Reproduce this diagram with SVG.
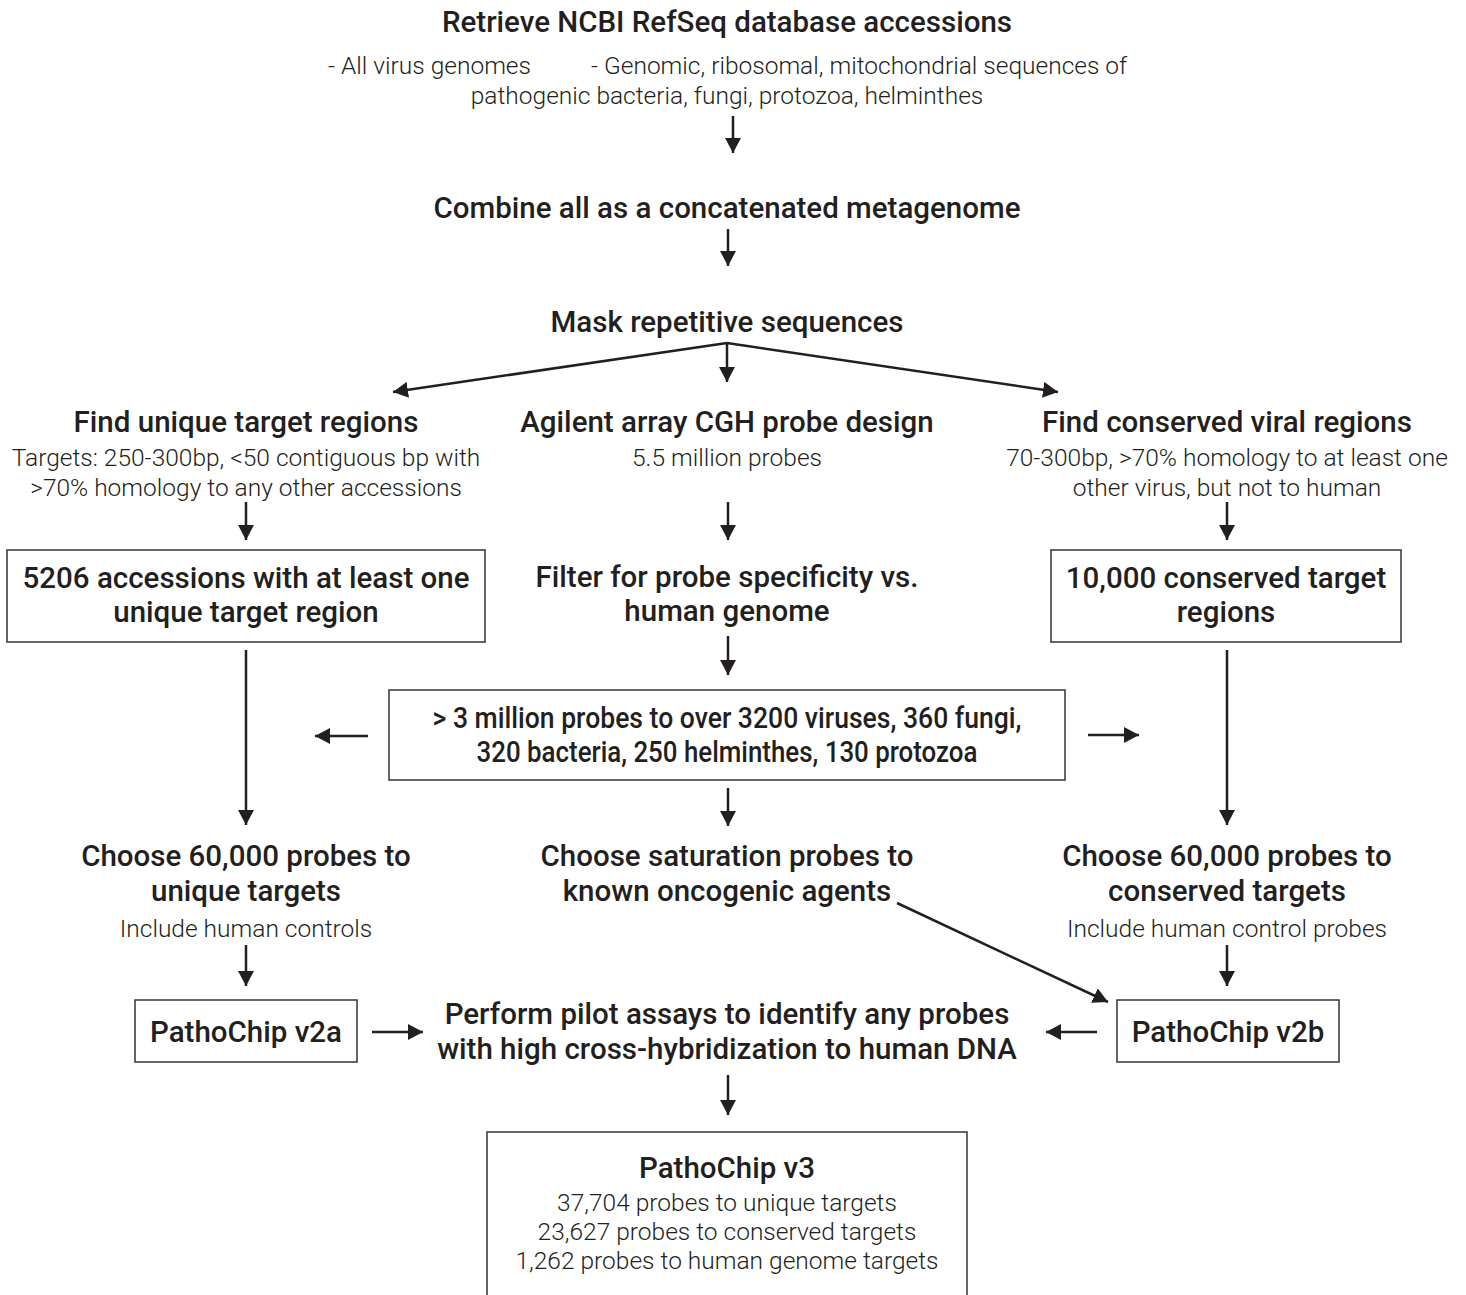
<svg xmlns="http://www.w3.org/2000/svg" width="1466" height="1295" viewBox="0 0 1466 1295">
<defs>
<marker id="ah" markerUnits="userSpaceOnUse" markerWidth="15" markerHeight="16" refX="15" refY="8" orient="auto">
<path d="M0,0 L15,8 L0,16 z" fill="#231f20"/>
</marker>
<style>
.t{font-family:Roboto,"Liberation Sans",sans-serif;font-weight:500;font-size:29.5px;fill:#231f20;text-anchor:middle}
.s{font-family:Roboto,"Liberation Sans",sans-serif;font-weight:300;font-size:24.5px;fill:#231f20;text-anchor:middle}
.b{fill:#fff;stroke:#333;stroke-width:1.5}
.c line{stroke:#231f20;stroke-width:2.5;marker-end:url(#ah)}
</style>
</defs>
<rect width="1466" height="1295" fill="#fff"/>
<g id="retrieve">
<text class="t" x="727" y="32">Retrieve NCBI RefSeq database accessions</text>
<text class="s" x="328" y="74" style="text-anchor:start">- All virus genomes</text>
<text class="s" x="591" y="74" style="text-anchor:start">- Genomic, ribosomal, mitochondrial sequences of</text>
<text class="s" x="727" y="104">pathogenic bacteria, fungi, protozoa, helminthes</text>
</g>
<g id="combine">
<text class="t" x="727" y="218">Combine all as a concatenated metagenome</text>
</g>
<g id="mask">
<text class="t" x="727" y="332">Mask repetitive sequences</text>
</g>
<g id="find-unique">
<text class="t" x="246" y="432">Find unique target regions</text>
<text class="s" x="246" y="466">Targets: 250-300bp, &lt;50 contiguous bp with</text>
<text class="s" x="246" y="496">&gt;70% homology to any other accessions</text>
</g>
<g id="agilent">
<text class="t" x="727" y="432">Agilent array CGH probe design</text>
<text class="s" x="727" y="466">5.5 million probes</text>
</g>
<g id="find-conserved">
<text class="t" x="1227" y="432">Find conserved viral regions</text>
<text class="s" x="1227" y="466">70-300bp, &gt;70% homology to at least one</text>
<text class="s" x="1227" y="496">other virus, but not to human</text>
</g>
<g id="accessions">
<rect class="b" x="7" y="550" width="478" height="92"/>
<text class="t" x="246" y="588">5206 accessions with at least one</text>
<text class="t" x="246" y="622">unique target region</text>
</g>
<g id="filter">
<text class="t" x="727" y="587">Filter for probe specificity vs.</text>
<text class="t" x="727" y="621">human genome</text>
</g>
<g id="conserved-regions">
<rect class="b" x="1051" y="550" width="350" height="92"/>
<text class="t" x="1226" y="588">10,000 conserved target</text>
<text class="t" x="1226" y="622">regions</text>
</g>
<g id="probes">
<rect class="b" x="389" y="690" width="676" height="90"/>
<text class="t" x="727" y="728" textLength="589" lengthAdjust="spacingAndGlyphs">&gt; 3 million probes to over 3200 viruses, 360 fungi,</text>
<text class="t" x="727" y="762" textLength="501" lengthAdjust="spacingAndGlyphs">320 bacteria, 250 helminthes, 130 protozoa</text>
</g>
<g id="choose-unique">
<text class="t" x="246" y="866">Choose 60,000 probes to</text>
<text class="t" x="246" y="901">unique targets</text>
<text class="s" x="246" y="937">Include human controls</text>
</g>
<g id="choose-saturation">
<text class="t" x="727" y="866">Choose saturation probes to</text>
<text class="t" x="727" y="901">known oncogenic agents</text>
</g>
<g id="choose-conserved">
<text class="t" x="1227" y="866">Choose 60,000 probes to</text>
<text class="t" x="1227" y="901">conserved targets</text>
<text class="s" x="1227" y="937">Include human control probes</text>
</g>
<g id="v2a">
<rect class="b" x="135" y="1000" width="222" height="62"/>
<text class="t" x="246" y="1042">PathoChip v2a</text>
</g>
<g id="pilot">
<text class="t" x="727" y="1024">Perform pilot assays to identify any probes</text>
<text class="t" x="727" y="1059">with high cross-hybridization to human DNA</text>
</g>
<g id="v2b">
<rect class="b" x="1117" y="1000" width="222" height="62"/>
<text class="t" x="1228" y="1042">PathoChip v2b</text>
</g>
<g id="v3">
<rect class="b" x="487" y="1132" width="480" height="170"/>
<text class="t" x="727" y="1178">PathoChip v3</text>
<text class="s" x="727" y="1211">37,704 probes to unique targets</text>
<text class="s" x="727" y="1240">23,627 probes to conserved targets</text>
<text class="s" x="727" y="1269">1,262 probes to human genome targets</text>
</g>
<g id="connectors" class="c">
<line x1="733" y1="116" x2="733" y2="153"/>
<line x1="728" y1="229" x2="728" y2="266"/>
<line x1="727" y1="343" x2="393" y2="392"/>
<line x1="727" y1="343" x2="727" y2="382"/>
<line x1="727" y1="343" x2="1058" y2="392"/>
<line x1="246" y1="502" x2="246" y2="540"/>
<line x1="728" y1="502" x2="728" y2="540"/>
<line x1="1227" y1="502" x2="1227" y2="540"/>
<line x1="728" y1="636" x2="728" y2="675"/>
<line x1="246" y1="650" x2="246" y2="825"/>
<line x1="1227" y1="650" x2="1227" y2="825"/>
<line x1="368" y1="736" x2="315" y2="736"/>
<line x1="1088" y1="735" x2="1139" y2="735"/>
<line x1="728" y1="788" x2="728" y2="826"/>
<line x1="246" y1="945" x2="246" y2="986"/>
<line x1="1227" y1="945" x2="1227" y2="986"/>
<line x1="897" y1="903" x2="1108" y2="1002"/>
<line x1="372" y1="1032" x2="423" y2="1032"/>
<line x1="1097" y1="1032" x2="1046" y2="1032"/>
<line x1="728" y1="1075" x2="728" y2="1115"/>
</g>
</svg>
